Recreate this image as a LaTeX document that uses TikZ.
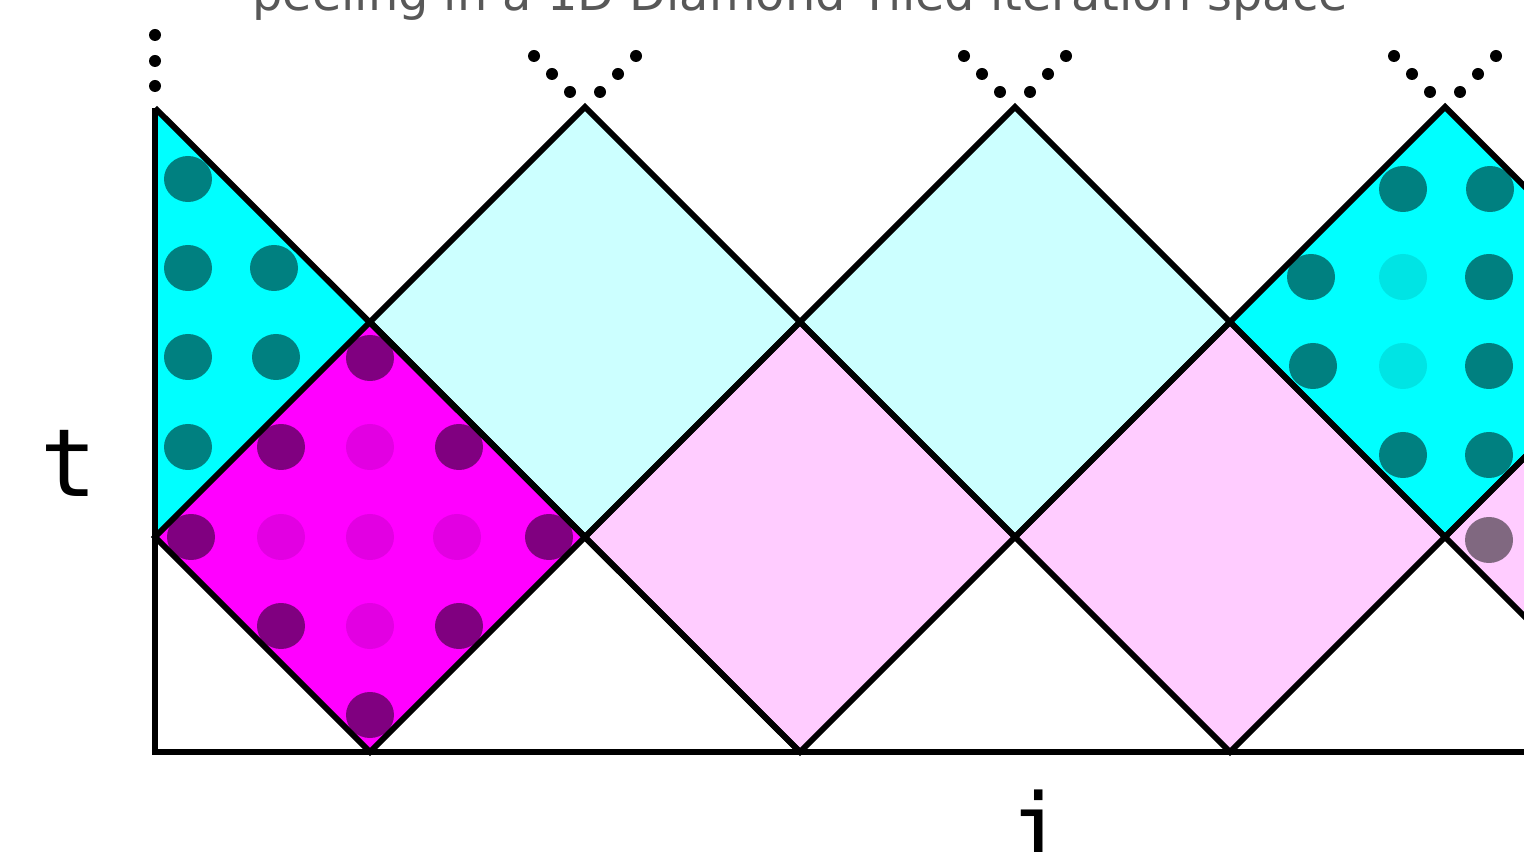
\documentclass[tikz,border=0pt]{standalone}
\usepackage{fontspec}
\setmainfont{DejaVu Sans}
\newfontfamily\axisfont{DejaVu Sans Mono}
\usepackage{xcolor}
\definecolor{tilecyan}{RGB}{0, 255, 255}
\definecolor{tilecyanlt}{RGB}{204, 255, 255}
\definecolor{tilemag}{RGB}{255, 0, 255}
\definecolor{tilemaglt}{RGB}{255, 204, 255}
\definecolor{dotteal}{RGB}{0, 128, 128}
\definecolor{dottealgh}{RGB}{0, 228, 228}
\definecolor{dotpurp}{RGB}{128, 0, 128}
\definecolor{dotpurpgh}{RGB}{226, 0, 226}
\definecolor{dotmauve}{RGB}{128, 104, 128}
\definecolor{titlegray}{RGB}{88, 88, 88}

\begin{document}
\begin{tikzpicture}[
  x=0.01cm, y=-0.01cm,
  edge/.style={line width=1.7pt, line join=miter},
  pt/.style={fill=#1},
  title/.style={text=titlegray, font=\fontsize{13.6}{16}\selectfont, anchor=base, inner sep=0pt},
  axislabel/.style={font=\axisfont\fontsize{26.8}{30}\selectfont, anchor=base, inner sep=0pt}
]
  \useasboundingbox (0,0) rectangle (1524,852);
  \clip (0,0) rectangle (1524,852);

  % tiles
  \fill[tilecyan] (155,108) -- (370,322) -- (155,537) -- cycle;
  \fill[tilemag] (155,537) -- (370,322) -- (585,537) -- (370,752) -- cycle;
  \foreach \cx/\cy/\col in {585/322/tilecyanlt, 1015/322/tilecyanlt, 1445/322/tilecyan,
                            800/537/tilemaglt, 1230/537/tilemaglt, 1660/537/tilemaglt}
    \fill[\col] (\cx-215,\cy) -- (\cx,\cy-215) -- (\cx+215,\cy) -- (\cx,\cy+215) -- cycle;

  % iteration points
  \foreach \px/\py/\col in {188/179/dotteal, 188/268/dotteal, 274/268/dotteal,
      188/357/dotteal, 276/357/dotteal, 188/447/dotteal,
      370/358/dotpurp, 281/447/dotpurp, 370/447/dotpurpgh, 459/447/dotpurp,
      191/537/dotpurp, 281/537/dotpurpgh, 370/537/dotpurpgh, 457/537/dotpurpgh, 549/537/dotpurp,
      281/626/dotpurp, 370/626/dotpurpgh, 459/626/dotpurp, 370/715/dotpurp,
      1403/189/dotteal, 1490/189/dotteal,
      1311/277/dotteal, 1403/277/dottealgh, 1489/277/dotteal,
      1313/366/dotteal, 1403/366/dottealgh, 1489/366/dotteal,
      1403/455/dotteal, 1489/455/dotteal, 1489/540/dotmauve}
    \fill[pt=\col] (\px,\py) ellipse [x radius=24, y radius=23];

  % tile borders and axes
  \draw[edge] (155,108) -- (155,752) -- (1530,752);
  \draw[edge] (155,108) -- (800,752);
  \foreach \cx/\cy in {370/537, 585/322, 1015/322, 1445/322, 800/537, 1230/537, 1660/537}
    \draw[edge] (\cx-215,\cy) -- (\cx,\cy-215) -- (\cx+215,\cy) -- (\cx,\cy+215) -- cycle;

  % continuation dots
  \foreach \py in {35, 61, 86}
    \fill (155,\py) circle (6);
  \foreach \cx in {585, 1015, 1445}
    \foreach \dx/\py in {-51/56, -33/74, -15/92, 15/92, 33/74, 51/56}
      \fill (\cx+\dx,\py) circle (6);

  \node[title] (ttl) at (800,11) {peeling in a 1D Diamond Tiled iteration space};
  \node[axislabel] (tlab) at (69,497) {t};
  \node[axislabel] (ilab) at (1038,861) {i};
\end{tikzpicture}
\end{document}
